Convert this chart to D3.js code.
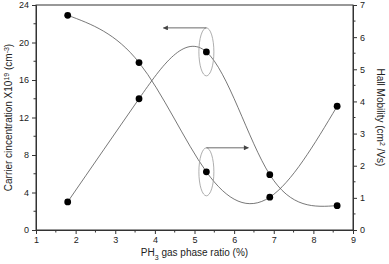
<!DOCTYPE html>
<html>
<head>
<meta charset="utf-8">
<script src="https://cdn.jsdelivr.net/npm/d3@7"></script>
<style>
  body { margin: 0; background: #fff; }
  text { font-family: "Liberation Sans", Arial, sans-serif; fill: #222; }
</style>
</head>
<body>
<script>
// data
var ratio = [1.8, 3.6, 5.3, 6.9, 8.6];
var carrier = [3.0, 14.0, 19.0, 5.9, 2.6];      // x10^19 cm^-3, left axis
var mobility = [6.68, 5.21, 1.81, 1.02, 3.85];  // cm^2/Vs, right axis
var xTicks = [1, 2, 3, 4, 5, 6, 7, 8, 9];
var leftTicks = [0, 4, 8, 12, 16, 20, 24];
var rightTicks = [0, 1, 2, 3, 4, 5, 6, 7];

var width = 389, height = 264;
var pLeft = 36, pRight = 353, pTop = 5, pBottom = 230;

var svg = d3.select("body").append("svg")
    .attr("width", width)
    .attr("height", height);

var defs = svg.append("defs");
defs.append("marker")
    .attr("id", "arr")
    .attr("viewBox", "0 0 10 10")
    .attr("refX", 9).attr("refY", 5)
    .attr("markerWidth", 7).attr("markerHeight", 5)
    .attr("markerUnits", "userSpaceOnUse")
    .attr("orient", "auto")
    .append("path")
    .attr("d", "M0,0 L10,5 L0,10 z")
    .attr("fill", "#444");

var x = d3.scaleLinear().domain([1, 9]).range([pLeft, pRight]);
var yL = d3.scaleLinear().domain([0, 24]).range([pBottom, pTop]);
var yR = d3.scaleLinear().domain([0, 7]).range([pBottom, pTop]);

// frame
svg.append("rect")
    .attr("x", pLeft).attr("y", pTop)
    .attr("width", pRight - pLeft).attr("height", pBottom - pTop)
    .attr("fill", "none")
    .attr("stroke", "#333")
    .attr("stroke-width", 1);

function minorTicks(g, scale, vals, orient, len) {
  vals.forEach(function(v) {
    var p = scale(v);
    if (orient == "bottom") g.append("line").attr("x1", p).attr("x2", p).attr("y1", pBottom).attr("y2", pBottom + len);
    if (orient == "left") g.append("line").attr("y1", p).attr("y2", p).attr("x1", pLeft).attr("x2", pLeft - len);
    if (orient == "right") g.append("line").attr("y1", p).attr("y2", p).attr("x1", pRight).attr("x2", pRight + len);
  });
  g.selectAll("line").attr("stroke", "#333").attr("stroke-width", 1);
}

// axes
var xAxis = svg.append("g")
    .attr("transform", "translate(0," + pBottom + ")")
    .call(d3.axisBottom(x).tickValues(xTicks).tickFormat(d3.format("d")).tickSize(4).tickPadding(3));

var lAxis = svg.append("g")
    .attr("transform", "translate(" + pLeft + ",0)")
    .call(d3.axisLeft(yL).tickValues(leftTicks).tickFormat(d3.format("d")).tickSize(4).tickPadding(3));

var rAxis = svg.append("g")
    .attr("transform", "translate(" + pRight + ",0)")
    .call(d3.axisRight(yR).tickValues(rightTicks).tickFormat(d3.format("d")).tickSize(4).tickPadding(3));

[xAxis, lAxis, rAxis].forEach(function(a) {
  a.select(".domain").attr("stroke", "#333");
  a.selectAll(".tick line").attr("stroke", "#333");
  a.selectAll("text").style("font-size", "9px").attr("fill", "#222")
    .style("font-family", "'Liberation Sans', Arial, sans-serif");
});

minorTicks(svg.append("g"), x, d3.range(1.5, 9, 1), "bottom", 2.5);
minorTicks(svg.append("g"), yL, d3.range(2, 24, 4), "left", 2.5);
minorTicks(svg.append("g"), yR, d3.range(0.5, 7, 1), "right", 2.5);

// curves
var carrierPts = ratio.map(function(r, i) { return [x(r), yL(carrier[i])]; });
var mobilityPts = ratio.map(function(r, i) { return [x(r), yR(mobility[i])]; });

var line = d3.line().curve(d3.curveNatural);

svg.append("path")
    .attr("d", line(carrierPts))
    .attr("fill", "none")
    .attr("stroke", "#555")
    .attr("stroke-width", 0.8);

svg.append("path")
    .attr("d", line(mobilityPts))
    .attr("fill", "none")
    .attr("stroke", "#555")
    .attr("stroke-width", 0.8);

svg.selectAll(".pc")
    .data(carrierPts.concat(mobilityPts))
    .enter()
    .append("circle")
    .attr("cx", function(d) { return d[0]; })
    .attr("cy", function(d) { return d[1]; })
    .attr("r", 3.4)
    .attr("fill", "#000");

// ellipses with arrows pointing at the axes
var cx = x(ratio[2]);
var e1 = yL(carrier[2]), e2 = yR(mobility[2]);

svg.append("ellipse")
    .attr("cx", cx).attr("cy", e1)
    .attr("rx", 7.5).attr("ry", 24)
    .attr("fill", "none").attr("stroke", "#999").attr("stroke-width", 0.8);

svg.append("line")
    .attr("x1", cx).attr("y1", e1 - 24)
    .attr("x2", cx - 43).attr("y2", e1 - 24)
    .attr("stroke", "#444").attr("stroke-width", 0.8)
    .attr("marker-end", "url(#arr)");

svg.append("ellipse")
    .attr("cx", cx).attr("cy", e2)
    .attr("rx", 7.5).attr("ry", 24)
    .attr("fill", "none").attr("stroke", "#999").attr("stroke-width", 0.8);

svg.append("line")
    .attr("x1", cx).attr("y1", e2 - 24)
    .attr("x2", cx + 42).attr("y2", e2 - 24)
    .attr("stroke", "#444").attr("stroke-width", 0.8)
    .attr("marker-end", "url(#arr)");

// axis titles
var xt = svg.append("text")
    .attr("x", (pLeft + pRight) / 2)
    .attr("y", 256)
    .attr("text-anchor", "middle")
    .style("font-size", "10px");
xt.append("tspan").text("PH");
xt.append("tspan").attr("baseline-shift", "sub").style("font-size", "7px").text("3");
xt.append("tspan").text(" gas phase ratio (%)");

var lt = svg.append("text")
    .attr("transform", "translate(12," + ((pTop + pBottom) / 2) + ") rotate(-90)")
    .attr("text-anchor", "middle")
    .style("font-size", "10px");
lt.append("tspan").text("Carrier cincentration X10");
lt.append("tspan").attr("baseline-shift", "super").style("font-size", "7px").text("19");
lt.append("tspan").text(" (cm");
lt.append("tspan").attr("baseline-shift", "super").style("font-size", "7px").text("-3");
lt.append("tspan").text(")");

var rt = svg.append("text")
    .attr("transform", "translate(377," + ((pTop + pBottom) / 2) + ") rotate(90)")
    .attr("text-anchor", "middle")
    .style("font-size", "10px");
rt.append("tspan").text("Hall Mobility (cm");
rt.append("tspan").attr("baseline-shift", "super").style("font-size", "7px").text("2");
rt.append("tspan").text(" /Vs)");
</script>
</body>
</html>
